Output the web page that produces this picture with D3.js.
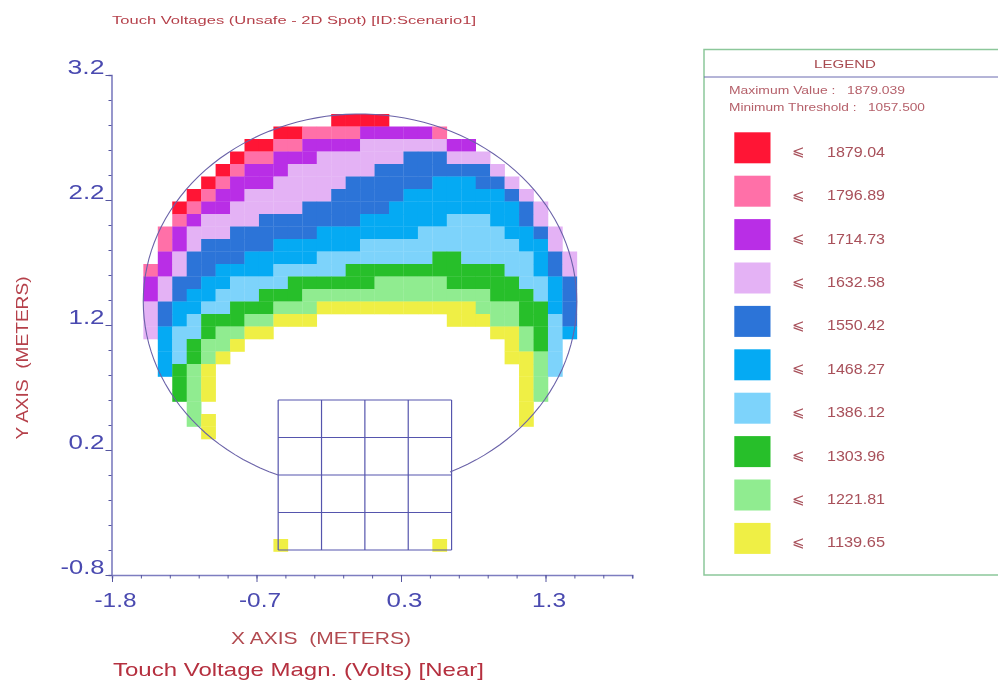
<!DOCTYPE html>
<html><head><meta charset="utf-8">
<script src="https://cdn.jsdelivr.net/npm/d3@7"></script>
<style>html,body{margin:0;padding:0;background:#fff}svg{display:block;filter:blur(0.4px)}text{font-family:"Liberation Sans",Arial,sans-serif;white-space:pre}</style>
</head><body><svg id="c" width="998" height="681"></svg>
<script>
const legendValues=[1879.04,1796.89,1714.73,1632.58,1550.42,1468.27,1386.12,1303.96,1221.81,1139.65];
const bandColors=["#ff1535","#ff70a8","#b92ee6","#e4b2f5","#2c74d8","#05aaf3","#7dd3fb","#27bf2a","#90ec90","#efef45"];
const maximumValue="1879.039", minimumThreshold="1057.500";
const xTicks=[-1.75,-0.75,0.25,1.25];
const xTickLabels=["-1.8","-0.7","0.3","1.3"];
const yTicks=[3.2,2.2,1.2,0.2,-0.8];
const yTickLabels=["3.2","2.2","1.2","0.2","-0.8"];
const gridLinesX=[-0.6,-0.3,0,0.3,0.6];
const gridLinesY=[0.6,0.3,0,-0.3,-0.6];
// Band per cell: 0 = lowest band (1139.65) ... 9 = highest (1879.04), "." = below threshold
const rowStarts=[13,9,7,6,5,4,3,2,2,1,1,1,0,0,0,0,0,0,1,1,1,2,2,3,3,4,0,0,0,0,0,0,0,0,9];
const cellRows=[
"9999",
"998888777778",
"9988777766666677",
"988777666666555666",
"98777666666555555556",
"9877766666555555444556",
"987766666655555444444456",
"98776666655555544444444456",
"87666655555554444443334456",
"8766655555544444443333334456",
"8765555544444433333333333446",
"76555544444333333332233333456",
"876554444333332222222222233456",
"765544333322222211111222223345",
"765443332221111111111111222345",
"654433222111000000000001112245",
"654322211000.........000112235",
"643321100...............001234",
"432110..................0123",
"43210...................0013",
"4210.....................013",
"210.....................01",
"210.....................01",
"1......................0",
"10.....................0",
"0","","","","","","","","",
"0..........0"];
const cellSize=0.1, gridLeft=-1.533, gridTop=2.888;
const circle={cx:-0.0337,cy:1.388,r:1.5};

const svg=d3.select("#c");
const x=d3.scaleLinear().domain([-1.75,1.85]).range([112,632.2]);
const y=d3.scaleLinear().domain([-0.8,3.2]).range([575,75]);
const band=d3.scaleOrdinal().domain(d3.range(9,-1,-1)).range(bandColors);

const cells=[];
cellRows.forEach((s,r)=>[...s].forEach((ch,i)=>{if(ch!==".")cells.push({r,c:rowStarts[r]+i,b:+ch});}));
svg.append("g").selectAll("rect").data(cells).join("rect")
 .attr("x",d=>x(gridLeft+d.c*cellSize)).attr("y",d=>y(gridTop-d.r*cellSize))
 .attr("width",x(cellSize)-x(0)+0.3).attr("height",y(0)-y(cellSize)+0.3)
 .attr("fill",d=>band(d.b));

const ink="#5555ad";
const g=svg.append("g").attr("stroke",ink).attr("stroke-width",1.2);
g.selectAll(".v").data(gridLinesX).join("line").attr("class","v").attr("x1",d=>x(d)).attr("x2",d=>x(d)).attr("y1",y(0.6)).attr("y2",y(-0.6));
g.selectAll(".h").data(gridLinesY).join("line").attr("class","h").attr("y1",d=>y(d)).attr("y2",d=>y(d)).attr("x1",x(-0.6)).attr("x2",x(0.6));
// boundary arc, from the right grid corner over the top to the left grid corner
const from=Math.atan2(-circle.cy,0.6-circle.cx), to=Math.atan2(-circle.cy,-0.6-circle.cx)+2*Math.PI;
const arcAngles=d3.range(0,121).map(i=>from+(to-from)*i/120);
svg.append("path").attr("fill","none").attr("stroke","#6a62a8").attr("stroke-width",1.1)
 .attr("d",d3.line().x(t=>x(circle.cx+circle.r*Math.cos(t))).y(t=>y(circle.cy+circle.r*Math.sin(t)))(arcAngles));

const axisBlue="#4a4ab0";
function styleAxis(sel){sel.select(".domain").attr("stroke","#7d7dc0").attr("stroke-width",1.6);sel.selectAll("line").attr("stroke","#55559f");}
const xMinor=d3.range(0,19).map(i=>-1.75+i*0.2);
svg.append("g").attr("transform","translate(0,575)")
 .call(d3.axisBottom(x).tickValues(xMinor).tickSize(3.5).tickFormat("")).call(styleAxis);
const xm=svg.append("g").attr("transform","translate(0,575)");
xm.call(d3.axisBottom(x).tickValues(xTicks).tickSize(7).tickFormat((d,i)=>xTickLabels[i])).call(styleAxis);
xm.select(".domain").remove();
const xW=[42,42,36,34];
xm.selectAll("text").attr("font-family",null).attr("font-size",20).attr("fill",axisBlue).attr("y",32).attr("dy",0)
 .attr("x",3).attr("textLength",(d,i)=>xW[i]).attr("lengthAdjust","spacingAndGlyphs");
const yMinor=d3.range(0,21).map(i=>-0.8+i*0.2);
svg.append("g").attr("transform","translate(111.5,0)")
 .call(d3.axisLeft(y).tickValues(yMinor).tickSize(3).tickFormat("")).call(styleAxis);
const ym=svg.append("g").attr("transform","translate(111.5,0)");
ym.call(d3.axisLeft(y).tickValues(yTicks).tickSize(6).tickFormat((d,i)=>yTickLabels[i])).call(styleAxis);
ym.select(".domain").remove();
const yW=[37,36,36,36,44];
ym.selectAll("text").attr("font-family",null).attr("font-size",20).attr("fill",axisBlue).attr("x",-7).attr("dy",-2)
 .attr("textLength",(d,i)=>yW[i]).attr("lengthAdjust","spacingAndGlyphs");

function label(t,px,py,size,w,fill,anchor){return svg.append("text").text(t).attr("x",px).attr("y",py).attr("font-size",size)
 .attr("fill",fill).attr("text-anchor",anchor||"start").attr("textLength",w).attr("lengthAdjust","spacingAndGlyphs");}
label("Touch Voltages (Unsafe - 2D Spot) [ID:Scenario1]",112,24,11.5,364,"#b5404a");
label("X AXIS  (METERS)",231,644,16.5,180,"#b24a50");
label("Touch Voltage Magn. (Volts) [Near]",113,676,19,371,"#b5303f");
label("Y AXIS  (METERS)",0,0,16.5,163,"#b5404a","middle").attr("transform","translate(28,358) rotate(-90)");

svg.append("path").attr("d","M998,49.5H704V575H998").attr("fill","none").attr("stroke","#8cc79a").attr("stroke-width",1.5);
svg.append("line").attr("x1",704).attr("x2",998).attr("y1",77).attr("y2",77).attr("stroke","#6a6ab0");
label("LEGEND",814,68,11.5,62,"#a84a50");
label("Maximum Value :   "+maximumValue,729,93.5,10,176,"#b5606a");
label("Minimum Threshold :   "+minimumThreshold,729,111,10,196,"#b5606a");
const ly=d3.scaleBand().domain(legendValues).range([132.3,566.3]);
const row=svg.append("g").selectAll("g").data(legendValues).join("g").attr("transform",d=>`translate(0,${ly(d)})`);
row.append("rect").attr("x",734.3).attr("y",0).attr("width",36.2).attr("height",31).attr("fill",(d,i)=>bandColors[i]);
row.append("text").text("⩽").attr("x",792).attr("y",24).attr("font-size",15).style("font-family","'DejaVu Sans'").attr("fill","#a8505a");
row.append("text").text(d=>d.toFixed(2)).attr("x",827).attr("y",24.5).attr("font-size",14).attr("fill","#a8505a")
 .attr("textLength",58).attr("lengthAdjust","spacingAndGlyphs");
</script></body></html>
